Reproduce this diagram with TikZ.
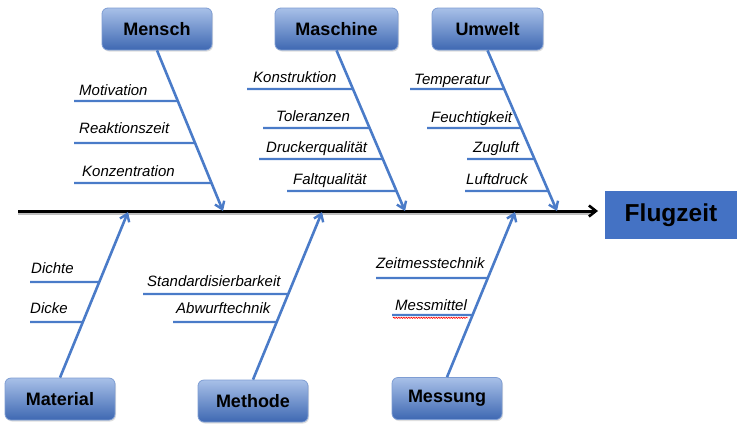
\documentclass[tikz,border=0pt]{standalone}
\usepackage{fontspec}
\setmainfont{Liberation Sans}
\usetikzlibrary{arrows.meta,shadows,decorations.pathmorphing}
\definecolor{arrowblue}{HTML}{4A7BC8}
\definecolor{boxtop}{HTML}{A8C0E8}
\definecolor{boxbot}{HTML}{3E68B2}
\definecolor{boxline}{HTML}{7E9DD3}
\definecolor{flugblue}{HTML}{4472C4}
\begin{document}
\begin{tikzpicture}[x=1pt,y=-1pt,
  cat/.style={draw=boxline, line width=0.8pt, rounded corners=6pt,
    top color=boxtop, bottom color=boxbot, minimum height=42pt,
    inner sep=0pt, font=\fontsize{18}{20}\selectfont\bfseries, text=black,
    drop shadow={opacity=0.25, shadow xshift=1pt, shadow yshift=-1.5pt}},
  effect/.style={fill=flugblue, minimum width=132pt, minimum height=48pt,
    inner sep=0pt, font=\fontsize{24.5}{26}\selectfont\bfseries, text=black},
  causearrow/.style={draw=arrowblue, line width=2.6pt,
    -{Straight Barb[length=7pt,width=10pt,line width=2.4pt]}},
  spine/.style={draw=black, line width=3pt,
    -{Straight Barb[length=7pt,width=11pt,line width=2.6pt]}},
  spineshadow/.style={draw=black!25, line width=2pt},
  sub/.style={draw=arrowblue, line width=2.2pt},
  lbl/.style={anchor=base west, inner sep=0pt,
    font=\fontsize{15}{17}\selectfont\itshape, text=black}]
\useasboundingbox (0,0) rectangle (746,432);

% spine and effect
\node[effect] (flug) at (671,215) {Flugzeit};
\coordinate (spS) at (18,211);
\coordinate (spE) at (598,211);
\coordinate (shS) at (18,213.5);
\coordinate (shE) at (590,213.5);
\draw[spineshadow] (shS) -- (shE);
\draw[spine] (spS) -- (spE);

% category boxes
\node[cat, minimum width=110pt] (mensch)   at (157,29) {Mensch};
\node[cat, minimum width=123pt] (maschine) at (336.5,29) {Maschine};
\node[cat, minimum width=111pt] (umwelt)   at (487.5,29) {Umwelt};
\node[cat, minimum width=110pt] (material) at (60,399) {Material};
\node[cat, minimum width=110pt] (methode)  at (253,401) {Methode};
\node[cat, minimum width=110pt] (messung)  at (447,398.5) {Messung};

% arrow end points on the spine
\coordinate (mE)  at (223,211);
\coordinate (maE) at (405,211);
\coordinate (uE)  at (557,211);
\coordinate (matE) at (128,212);
\coordinate (meE) at (322,212);
\coordinate (msE) at (515,212);

\draw[causearrow] (mensch.south) -- (mE);
\draw[causearrow] (maschine.south) -- (maE);
\draw[causearrow] (umwelt.south) -- (uE);
\draw[causearrow] (material.north) -- (matE);
\draw[causearrow] (methode.north) -- (meE);
\draw[causearrow] (messung.north) -- (msE);

% Mensch
\coordinate (a1) at (74,101);
\coordinate (a2) at (74,143);
\coordinate (a3) at (74,183);
\draw[sub] (a1) -- (intersection of 74,101--800,101 and mensch.south--mE);
\draw[sub] (a2) -- (intersection of 74,143--800,143 and mensch.south--mE);
\draw[sub] (a3) -- (intersection of 74,183--800,183 and mensch.south--mE);
\node[lbl] (t1) at (79,95) {Motivation};
\node[lbl] (t2) at (79,133) {Reaktionszeit};
\node[lbl] (t3) at (82,176) {Konzentration};

% Maschine
\coordinate (b1) at (247,89);
\coordinate (b2) at (263,128);
\coordinate (b3) at (259,159);
\coordinate (b4) at (287,191);
\draw[sub] (b1) -- (intersection of 247,89--800,89 and maschine.south--maE);
\draw[sub] (b2) -- (intersection of 263,128--800,128 and maschine.south--maE);
\draw[sub] (b3) -- (intersection of 259,159--800,159 and maschine.south--maE);
\draw[sub] (b4) -- (intersection of 287,191--800,191 and maschine.south--maE);
\node[lbl] (t4) at (253,82) {Konstruktion};
\node[lbl] (t5) at (276,121) {Toleranzen};
\node[lbl] (t6) at (266,152) {Druckerqualität};
\node[lbl] (t7) at (293,184) {Faltqualität};

% Umwelt
\coordinate (c1) at (410,89);
\coordinate (c2) at (427,128);
\coordinate (c3) at (467,159);
\coordinate (c4) at (465,191);
\draw[sub] (c1) -- (intersection of 410,89--800,89 and umwelt.south--uE);
\draw[sub] (c2) -- (intersection of 427,128--800,128 and umwelt.south--uE);
\draw[sub] (c3) -- (intersection of 467,159--800,159 and umwelt.south--uE);
\draw[sub] (c4) -- (intersection of 465,191--800,191 and umwelt.south--uE);
\node[lbl] (t8) at (414,84) {Temperatur};
\node[lbl] (t9) at (431,122) {Feuchtigkeit};
\node[lbl] (t10) at (473,152) {Zugluft};
\node[lbl] (t11) at (466,184) {Luftdruck};

% Material
\coordinate (d1) at (30,282);
\coordinate (d2) at (30,322);
\draw[sub] (d1) -- (intersection of 30,282--800,282 and material.north--matE);
\draw[sub] (d2) -- (intersection of 30,322--800,322 and material.north--matE);
\node[lbl] (t12) at (31,273) {Dichte};
\node[lbl] (t13) at (30,313) {Dicke};

% Methode
\coordinate (e1) at (143,294);
\coordinate (e2) at (173,322);
\draw[sub] (e1) -- (intersection of 143,294--800,294 and methode.north--meE);
\draw[sub] (e2) -- (intersection of 173,322--800,322 and methode.north--meE);
\node[lbl] (t14) at (147,286) {Standardisierbarkeit};
\node[lbl] (t15) at (176,313) {Abwurftechnik};

% Messung
\coordinate (f1) at (376,278);
\coordinate (f2) at (392,315);
\draw[sub] (f1) -- (intersection of 376,278--800,278 and messung.north--msE);
\draw[sub] (f2) -- (intersection of 392,315--800,315 and messung.north--msE);
\node[lbl] (t16) at (376,268) {Zeitmesstechnik};
\node[lbl] (t17) at (395,310) {Messmittel};
\coordinate (w1) at (393,317.8);
\coordinate (w2) at (468,317.8);
\draw[red, line width=0.6pt, decorate,
  decoration={snake, amplitude=0.6pt, segment length=2.5pt}] (w1) -- (w2);
\end{tikzpicture}
\end{document}
